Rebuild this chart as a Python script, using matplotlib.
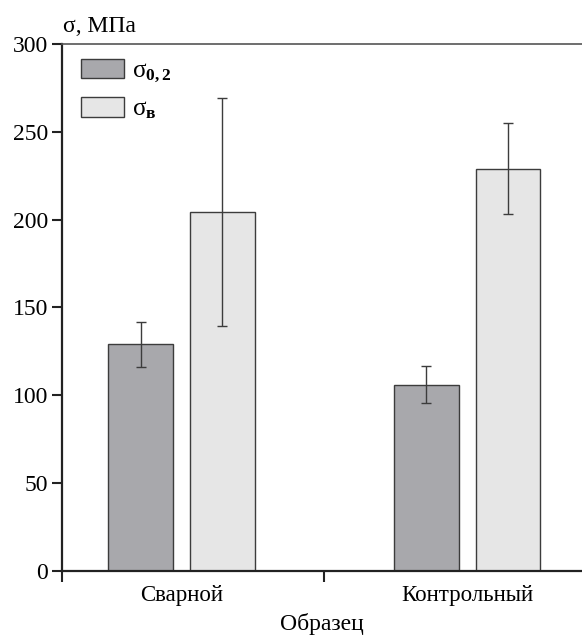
import matplotlib
matplotlib.use("Agg")
import matplotlib.pyplot as plt
import numpy as np
from matplotlib.patches import Patch

plt.rcParams["font.family"] = ["Liberation Serif", "DejaVu Serif"]
plt.rcParams["mathtext.fontset"] = "custom"
plt.rcParams["mathtext.rm"] = "Liberation Serif"
plt.rcParams["mathtext.it"] = "Liberation Serif:italic"
plt.rcParams["mathtext.bf"] = "Liberation Serif:bold"

samples = ["Сварной", "Контрольный"]
sigma02 = [129, 106]
sigma02_err = [13, 10.5]
sigmab = [204.5, 229]
sigmab_err = [65, 26]

DARK = "#a8a8ac"
LIGHT = "#e6e6e6"
EDGE = "#3c3c3c"

fig = plt.figure(figsize=(5.82, 6.35), dpi=100)
ax = fig.add_axes([0.1065, 0.1008, 0.8935, 0.83])

x = np.arange(len(samples))
w = 0.227
off = 0.143
ax.bar(x - off, sigma02, w, color=DARK, edgecolor=EDGE, lw=1.0, zorder=2)
ax.bar(x + off, sigmab, w, color=LIGHT, edgecolor=EDGE, lw=1.0, zorder=2)
ax.errorbar(x - off, sigma02, yerr=sigma02_err, fmt="none", ecolor=EDGE,
            elinewidth=1.0, capsize=3.5, capthick=1.0, zorder=3)
ax.errorbar(x + off, sigmab, yerr=sigmab_err, fmt="none", ecolor=EDGE,
            elinewidth=1.0, capsize=3.5, capthick=1.0, zorder=3)

xl = -0.419
ax.set_xlim(xl, 1.402)
ax.set_ylim(0, 300)
ax.set_yticks(np.arange(0, 301, 50))
ax.tick_params(axis="y", direction="out", length=7, width=1.5, pad=3,
               labelsize=17, color="#222222")

ax.set_xticks([xl, 0.5])
ax.set_xticklabels(["", ""])
ax.set_xticks(x, minor=True)
ax.set_xticklabels(samples, minor=True)
ax.tick_params(axis="x", which="major", direction="out", length=8, width=1.5,
               color="#222222")
ax.tick_params(axis="x", which="minor", length=0, pad=10, labelsize=16.5)

for s in ("left", "bottom"):
    ax.spines[s].set_linewidth(1.6)
    ax.spines[s].set_color("#222222")
ax.spines["top"].set_linewidth(1.2)
ax.spines["top"].set_color("#555555")
ax.spines["right"].set_visible(False)

ax.set_xlabel("Образец", fontsize=17, labelpad=5)
fig.text(0.108, 0.958, "σ, МПа", fontsize=17, ha="left", va="center")

handles = [Patch(facecolor=DARK, edgecolor=EDGE, lw=1.0),
           Patch(facecolor=LIGHT, edgecolor=EDGE, lw=1.0)]
labels = [r"$\mathrm{σ}_{\mathbf{0,2}}$", r"$\mathrm{σ}_{\mathbf{в}}$"]
ax.legend(handles, labels, loc="upper left", frameon=False, fontsize=18,
          handlelength=1.7, handleheight=0.8, labelspacing=0.5,
          handletextpad=0.35, borderaxespad=0.3, borderpad=0.3,
          bbox_to_anchor=(0.008, 1.0))

fig.savefig("out.png", dpi=100)
